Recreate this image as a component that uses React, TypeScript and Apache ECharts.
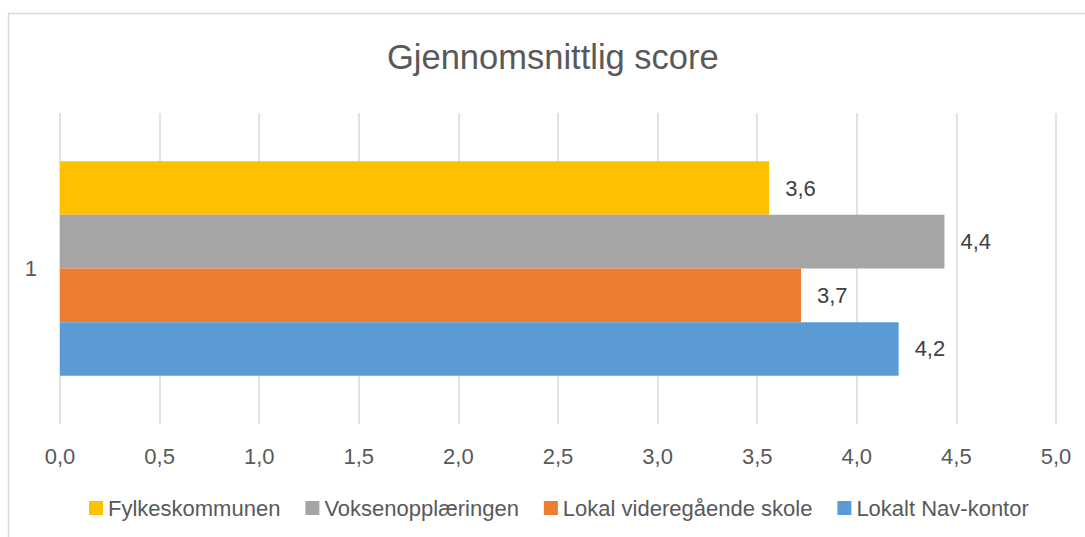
import React, { useEffect, useRef } from "react";
import * as echarts from "echarts";

const titleText = "Gjennomsnittlig score";
const categories = ["1"];
const seriesNames = ["Fylkeskommunen", "Voksenopplæringen", "Lokal videregående skole", "Lokalt Nav-kontor"];
const seriesValues = [3.56, 4.44, 3.72, 4.21];
const seriesColors = ["#FFC000", "#A5A5A5", "#ED7D31", "#5B9BD5"];

const FONT = "'Liberation Sans', Arial, sans-serif";
const fmt = (v: number) => v.toFixed(1).replace(".", ",");

export default function App() {
  const ref = useRef<HTMLDivElement>(null);
  useEffect(() => {
    if (!ref.current) return;
    const chart = echarts.init(ref.current, null, { renderer: "svg" });
    chart.setOption({
      animation: false,
      backgroundColor: "#ffffff",
      textStyle: { fontFamily: FONT },
      title: {
        text: titleText,
        left: 387,
        top: 39,
        padding: 0,
        textStyle: { fontSize: 34.5, fontWeight: "normal", color: "#595959", fontFamily: FONT },
      },
      graphic: [
        {
          type: "rect",
          shape: { x: 8.5, y: 13.5, width: 1200, height: 1200 },
          style: { fill: "none", stroke: "#d9d9d9", lineWidth: 1.5 },
          silent: true,
          z: -1,
        },
      ],
      legend: {
        left: 89,
        top: 497,
        padding: 0,
        itemGap: 25,
        itemWidth: 14,
        itemHeight: 14,
        icon: "rect",
        data: seriesNames,
        textStyle: { fontSize: 22, color: "#595959", fontFamily: FONT },
      },
      grid: { left: 60, right: 29, top: 113, bottom: 113, containLabel: false },
      xAxis: {
        type: "value",
        min: 0,
        max: 5,
        interval: 0.5,
        axisLine: { show: false },
        axisTick: { show: false },
        splitLine: { show: true, lineStyle: { color: "#d9d9d9", width: 1.5 } },
        axisLabel: {
          formatter: (v: number) => fmt(v),
          fontSize: 22,
          color: "#595959",
          margin: 21,
          fontFamily: FONT,
        },
      },
      yAxis: {
        type: "category",
        data: categories,
        axisLine: { show: false },
        axisTick: { show: false },
        axisLabel: { fontSize: 22, color: "#595959", margin: 23, fontFamily: FONT },
      },
      series: seriesNames.map((name, i) => ({
        name,
        type: "bar",
        data: [seriesValues[i]],
        itemStyle: { color: seriesColors[i] },
        barGap: "0%",
        barCategoryGap: "31%",
        label: {
          show: true,
          position: "right",
          distance: 16,
          formatter: (p: any) => fmt(p.value),
          fontSize: 22,
          color: "#404040",
          fontFamily: FONT,
        },
      })),
    });
    return () => chart.dispose();
  }, []);
  return (
    <div
      ref={ref}
      style={{ position: "fixed", left: 0, top: 0, width: 1085, height: 537 }}
    />
  );
}
